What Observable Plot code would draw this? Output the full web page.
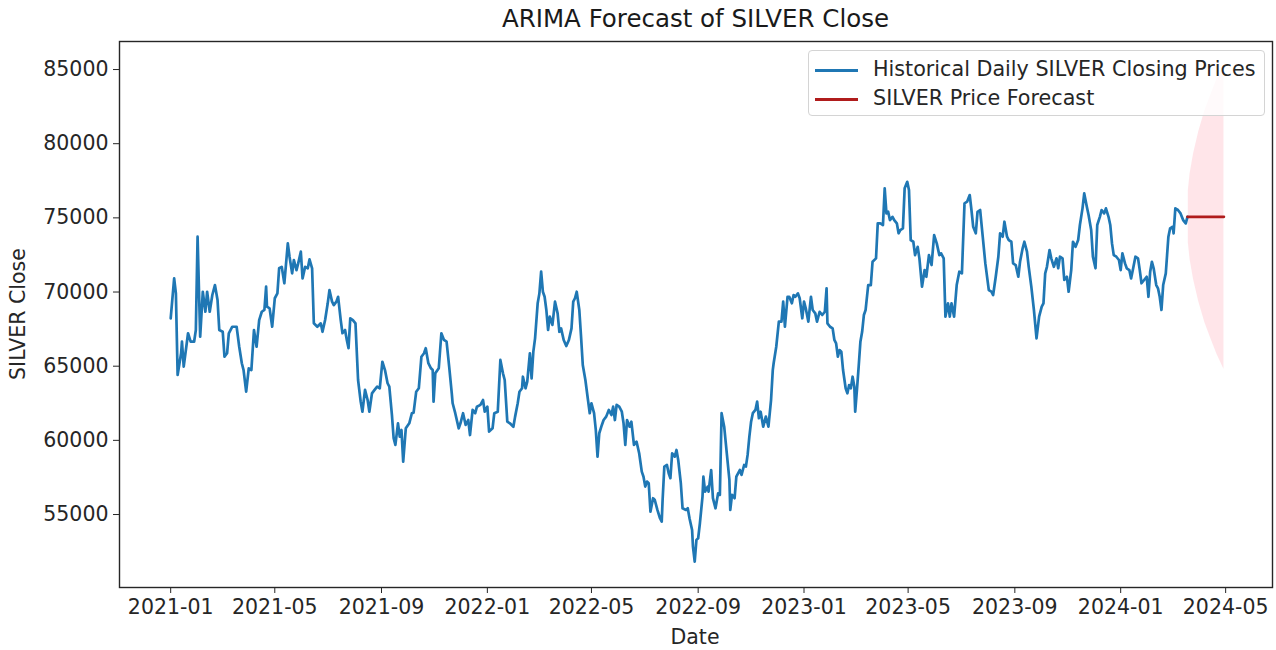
<!DOCTYPE html>
<html>
<head>
<meta charset="utf-8">
<script src="https://cdn.jsdelivr.net/npm/d3@7"></script>
<script src="https://cdn.jsdelivr.net/npm/@observablehq/plot@0.6"></script>
<style>
  body { margin: 0; background: #fff; font-family: "DejaVu Sans", sans-serif; color: #262626; }
  #wrap { position: relative; width: 1276px; height: 650px; overflow: hidden; }
  #title { height: 38px; line-height: 38px; font-size: 24.5px; text-align: center; padding-left: 119px; padding-right: 4px; color: #1a1a1a; }
  #ylabel { position: absolute; left: 18px; top: 314px; transform: translate(-50%, -50%) rotate(-90deg); font-size: 20.5px; white-space: nowrap; }
  #xlabel { position: absolute; left: 695px; top: 637px; transform: translate(-50%, -50%); font-size: 20.5px; white-space: nowrap; }
  #legend { position: absolute; left: 808px; top: 50px; width: 457px; height: 66px; box-sizing: border-box; border: 1px solid #d4d4d4; border-radius: 4px; background: rgba(255,255,255,0.8); }
  #legend .row { position: absolute; left: 6px; height: 28px; line-height: 28px; font-size: 20.7px; white-space: nowrap; }
  #legend .sw { display: inline-block; width: 43px; height: 3px; vertical-align: middle; margin-right: 15px; }
</style>
</head>
<body>
<div id="wrap">
  <div id="title">ARIMA Forecast of SILVER Close</div>
  <div id="chart"></div>
  <div id="ylabel">SILVER Close</div>
  <div id="xlabel">Date</div>
  <div id="legend">
    <div class="row" style="top:4px"><span class="sw" style="background:#1f77b4"></span>Historical Daily SILVER Closing Prices</div>
    <div class="row" style="top:33px"><span class="sw" style="background:#b01c1c"></span>SILVER Price Forecast</div>
  </div>
</div>
<script>
// ---- Data ----
const histDates = [
"2021-01-01","2021-01-05","2021-01-07","2021-01-09","2021-01-13","2021-01-14","2021-01-16","2021-01-19","2021-01-21","2021-01-24",
"2021-01-28","2021-01-30","2021-02-01","2021-02-04","2021-02-07","2021-02-10","2021-02-12","2021-02-15","2021-02-18","2021-02-21",
"2021-02-24","2021-02-26","2021-03-02","2021-03-04","2021-03-07","2021-03-09","2021-03-13","2021-03-18","2021-03-21","2021-03-24",
"2021-03-26","2021-03-29","2021-04-01","2021-04-04","2021-04-07","2021-04-10","2021-04-13","2021-04-16","2021-04-19","2021-04-21",
"2021-04-22","2021-04-25","2021-04-28","2021-05-01","2021-05-04","2021-05-06","2021-05-09","2021-05-12","2021-05-14","2021-05-16",
"2021-05-18","2021-05-21","2021-05-23","2021-05-26","2021-05-28","2021-05-31","2021-06-02","2021-06-05","2021-06-08","2021-06-10",
"2021-06-13","2021-06-15","2021-06-19","2021-06-23","2021-06-25","2021-06-28","2021-07-01","2021-07-03","2021-07-06","2021-07-08",
"2021-07-11","2021-07-13","2021-07-16","2021-07-18","2021-07-21","2021-07-23","2021-07-25","2021-07-27","2021-07-30","2021-08-02",
"2021-08-05","2021-08-08","2021-08-10","2021-08-13","2021-08-16","2021-08-18","2021-08-21","2021-08-24","2021-08-27","2021-08-30",
"2021-09-02","2021-09-05","2021-09-08","2021-09-10","2021-09-13","2021-09-15","2021-09-17","2021-09-20","2021-09-22","2021-09-24",
"2021-09-26","2021-09-29","2021-10-03","2021-10-06","2021-10-08","2021-10-11","2021-10-14","2021-10-17","2021-10-20","2021-10-22",
"2021-10-25","2021-10-28","2021-10-30","2021-10-31","2021-11-02","2021-11-06","2021-11-09","2021-11-12","2021-11-15","2021-11-18",
"2021-11-21","2021-11-22","2021-11-25","2021-11-29","2021-12-01","2021-12-04","2021-12-07","2021-12-10","2021-12-12","2021-12-15",
"2021-12-18","2021-12-20","2021-12-24","2021-12-27","2021-12-29",
"2022-01-01","2022-01-03","2022-01-07","2022-01-09","2022-01-13","2022-01-16","2022-01-19","2022-01-21","2022-01-24","2022-01-27",
"2022-01-31","2022-02-02","2022-02-05","2022-02-07","2022-02-10","2022-02-11","2022-02-14","2022-02-16","2022-02-19","2022-02-21",
"2022-02-23","2022-02-25","2022-02-28","2022-03-02","2022-03-04","2022-03-06","2022-03-08","2022-03-10","2022-03-12","2022-03-14",
"2022-03-17","2022-03-20","2022-03-23","2022-03-25","2022-03-27","2022-03-30","2022-04-02","2022-04-05","2022-04-08","2022-04-10",
"2022-04-12","2022-04-14","2022-04-17","2022-04-19","2022-04-21","2022-04-24","2022-04-27","2022-04-29","2022-05-01","2022-05-04",
"2022-05-06","2022-05-08","2022-05-10","2022-05-13","2022-05-15","2022-05-18","2022-05-21","2022-05-24","2022-05-26","2022-05-28",
"2022-05-30","2022-06-02","2022-06-05","2022-06-07","2022-06-09","2022-06-11","2022-06-14","2022-06-16","2022-06-19","2022-06-22",
"2022-06-25","2022-06-28","2022-06-30","2022-07-02","2022-07-04","2022-07-06","2022-07-08","2022-07-11","2022-07-13","2022-07-16",
"2022-07-19","2022-07-21","2022-07-22","2022-07-24","2022-07-27","2022-07-29","2022-07-31","2022-08-02","2022-08-05","2022-08-07",
"2022-08-09","2022-08-12","2022-08-14","2022-08-18","2022-08-20","2022-08-22","2022-08-25","2022-08-26","2022-08-28","2022-08-30",
"2022-09-01","2022-09-03","2022-09-06","2022-09-07","2022-09-09","2022-09-12","2022-09-13","2022-09-16","2022-09-18","2022-09-21",
"2022-09-24","2022-09-26","2022-09-28","2022-10-01","2022-10-04","2022-10-07","2022-10-08","2022-10-10","2022-10-13","2022-10-15",
"2022-10-19","2022-10-21","2022-10-24","2022-10-26","2022-10-28","2022-10-30","2022-11-01","2022-11-03","2022-11-06","2022-11-08",
"2022-11-10","2022-11-12","2022-11-15","2022-11-18","2022-11-21","2022-11-24","2022-11-26","2022-11-27","2022-11-30","2022-12-03",
"2022-12-06","2022-12-08","2022-12-10","2022-12-13","2022-12-15","2022-12-18","2022-12-20","2022-12-22","2022-12-25","2022-12-27",
"2022-12-30",
"2023-01-01","2023-01-03","2023-01-06","2023-01-09","2023-01-11","2023-01-14","2023-01-16","2023-01-19","2023-01-22","2023-01-25",
"2023-01-27","2023-01-28","2023-01-31","2023-02-03","2023-02-05","2023-02-07","2023-02-09","2023-02-11","2023-02-13","2023-02-15",
"2023-02-18","2023-02-20","2023-02-22","2023-02-24","2023-02-26","2023-02-28","2023-03-01","2023-03-03","2023-03-05","2023-03-07",
"2023-03-09","2023-03-11","2023-03-13","2023-03-16","2023-03-19","2023-03-21","2023-03-25","2023-03-27","2023-03-30","2023-04-02",
"2023-04-04","2023-04-06","2023-04-08","2023-04-10","2023-04-13","2023-04-15","2023-04-18","2023-04-20","2023-04-22","2023-04-25",
"2023-04-27","2023-04-30","2023-05-02","2023-05-04","2023-05-07","2023-05-09","2023-05-12","2023-05-14","2023-05-17","2023-05-20",
"2023-05-22","2023-05-25","2023-05-28","2023-05-31","2023-06-03","2023-06-06","2023-06-08","2023-06-11","2023-06-13","2023-06-16",
"2023-06-18","2023-06-20","2023-06-23","2023-06-26","2023-06-29","2023-07-02","2023-07-05","2023-07-08","2023-07-11","2023-07-13",
"2023-07-15","2023-07-18","2023-07-20","2023-07-23","2023-07-26","2023-07-29","2023-08-02","2023-08-05","2023-08-07","2023-08-10",
"2023-08-13","2023-08-15","2023-08-18","2023-08-20","2023-08-23","2023-08-25","2023-08-28","2023-08-30","2023-09-02","2023-09-05",
"2023-09-07","2023-09-10","2023-09-12","2023-09-15","2023-09-17","2023-09-20","2023-09-23","2023-09-26","2023-09-29","2023-10-02",
"2023-10-04","2023-10-06","2023-10-08","2023-10-11","2023-10-13","2023-10-16","2023-10-19","2023-10-21","2023-10-23","2023-10-26",
"2023-10-28","2023-10-31","2023-11-02","2023-11-05","2023-11-07","2023-11-10","2023-11-13","2023-11-15","2023-11-18","2023-11-20",
"2023-11-23","2023-11-25","2023-11-28","2023-11-30","2023-12-03","2023-12-05","2023-12-08","2023-12-10","2023-12-13","2023-12-15",
"2023-12-18","2023-12-20","2023-12-22","2023-12-24","2023-12-27","2023-12-30",
"2024-01-01","2024-01-03","2024-01-06","2024-01-08","2024-01-11","2024-01-13","2024-01-15","2024-01-18","2024-01-21","2024-01-23",
"2024-01-25","2024-01-28","2024-01-31","2024-02-02","2024-02-04","2024-02-06","2024-02-08","2024-02-11","2024-02-13","2024-02-15",
"2024-02-17","2024-02-19","2024-02-22","2024-02-25","2024-02-27","2024-03-01","2024-03-02","2024-03-04","2024-03-07","2024-03-10",
"2024-03-13","2024-03-16","2024-03-18"
];
const histClose = [
68230,70920,69910,64410,65870,66650,64970,66310,67220,66650,
66650,67440,73730,66990,70020,68670,70020,68670,69800,70470,
69460,67440,67320,65640,65870,67220,67660,67660,66310,65200,
64740,63280,64860,64740,67440,66310,68110,68670,68790,70360,
69010,68900,67660,69580,69910,71600,71700,70590,71930,73280,
72380,71260,72160,71480,71930,72720,70920,71700,71600,72200,
71600,67890,67660,67890,67320,68110,69240,70130,69350,69120,
69350,69680,68110,67220,67440,66770,66210,68230,68110,67890,
64070,62610,61930,63400,62720,61930,63170,63400,63620,63510,
65300,64740,63850,63620,61710,60140,59690,61150,60250,60700,
58560,60810,61150,61830,61870,63280,63510,65640,65870,66210,
65200,64860,64740,62610,64520,64860,67220,66770,66650,64970,
63170,62500,61830,60810,61150,61830,61040,61370,60360,62050,
61830,62270,62390,62720,61930,
62270,60590,60810,61830,61930,65420,64520,64070,61260,61150,
60920,61600,62500,63280,63510,64290,63510,63960,65870,64180,
65980,66880,69240,69910,71370,70020,69680,68790,67440,68340,
67780,69350,68560,67320,67550,66770,66360,66770,67550,69350,
69580,70020,68790,66990,65080,64070,62720,61830,62500,61830,
60700,58900,60480,61040,61370,61600,62050,61710,62270,61370,
62390,62270,61930,61150,59690,61370,60920,61260,59690,59910,
59130,57890,57550,56880,57220,57110,55190,56100,55980,55310,
54750,54520,55980,58230,58340,57780,57450,59130,58900,59350,
58680,57110,55420,55310,55420,54750,53960,52840,51830,53290,
53400,54410,56210,57550,56540,56880,56540,58000,56100,55420,
56430,56320,61830,60920,59130,57330,55310,56320,56100,57550,
58000,57670,58340,58230,59020,60250,61260,61830,62050,62610,
61490,61930,60920,61600,60920,62720,64740,65200,66310,68000,
68000,69350,67660,69680,69680,69240,69800,69680,69910,69580,
68230,
69350,68900,68000,69680,68790,68560,68000,68670,68450,68670,
70250,67890,67660,67550,66770,66540,65640,66090,65980,64740,
63510,63170,63730,63510,64290,63620,61930,63400,64970,66650,
67320,68450,68790,70470,70470,72040,72270,74630,74630,74520,
76990,75300,75410,74850,75070,74850,74630,73960,74180,74290,
76990,77430,76870,73500,73390,72490,73050,72270,70360,71480,
71030,72490,71820,73840,73280,72490,72610,72270,68340,69240,
68340,69240,68340,70470,71370,71260,75980,76090,76540,75530,
74400,73960,75410,75530,73730,71930,70130,70020,69800,71030,
72380,73960,73730,74740,73730,73500,73390,71930,71820,71030,
72040,72950,73390,72720,71700,70360,68790,66880,68340,69010,
69240,71260,71700,72830,72270,71700,72270,71600,72380,72270,
70810,71030,70020,71480,73390,73050,73500,74520,75640,76650,
75750,75190,74180,72380,71600,74520,75070,75530,75300,75640,
75070,74520,73280,72490,72380,72160,
71480,72610,71930,71600,71480,70920,71480,72380,72270,71480,
70590,70810,71030,69680,71370,72040,71600,70470,70250,69680,
68790,70470,71260,73730,74290,74400,73960,75640,75530,75300,
74850,74630,75070
];
const fcDates = ["2024-03-18","2024-03-25","2024-04-01","2024-04-08","2024-04-15","2024-04-22","2024-04-29"];
const fcClose = [75070,75070,75070,75070,75070,75070,75070];
const bandDates = ["2024-03-19","2024-03-21","2024-03-25","2024-03-31","2024-04-07","2024-04-14","2024-04-21","2024-04-29"];
const bandLower = [73300,72200,70850,69350,67950,66850,65800,64800];
const bandUpper = [76850,77950,79300,80800,82200,83300,84350,85350];
const xTicks = ["2021-01-01","2021-05-01","2021-09-01","2022-01-01","2022-05-01","2022-09-01","2023-01-01","2023-05-01","2023-09-01","2024-01-01","2024-05-01"];
const yTicks = [55000,60000,65000,70000,75000,80000,85000];

// ---- Build tables ----
const hist = histDates.map((d, i) => ({date: new Date(d), close: histClose[i]}));
const fc = fcDates.map((d, i) => ({date: new Date(d), close: fcClose[i]}));
const band = bandDates.map((d, i) => ({date: new Date(d), lower: bandLower[i], upper: bandUpper[i]}));

const chart = Plot.plot({
  width: 1276,
  height: 612,
  marginLeft: 119,
  marginRight: 4,
  marginTop: 3,
  marginBottom: 63,
  style: {fontFamily: '"DejaVu Sans", sans-serif', fontSize: "20.5px", color: "#262626", background: "#fff", overflow: "visible"},
  x: {
    type: "utc",
    domain: [new Date("2020-11-03"), new Date("2024-06-24")],
    ticks: xTicks.map(d => new Date(d)),
    tickFormat: d3.utcFormat("%Y-%m"),
    tickSize: 6,
    tickPadding: 6,
    label: null
  },
  y: {
    domain: [50080, 86890],
    ticks: yTicks,
    tickFormat: d3.format("d"),
    tickSize: 6,
    tickPadding: 5,
    label: null
  },
  marks: [
    Plot.areaY(band, {x: "date", y1: "lower", y2: "upper", fill: "pink", fillOpacity: 0.42}),
    Plot.lineY(hist, {x: "date", y: "close", stroke: "#1f77b4", strokeWidth: 2.7}),
    Plot.lineY(fc, {x: "date", y: "close", stroke: "#b01c1c", strokeWidth: 2.7}),
    Plot.frame({stroke: "#262626", strokeWidth: 1.4})
  ]
});
document.getElementById("chart").appendChild(chart);
</script>
</body>
</html>
